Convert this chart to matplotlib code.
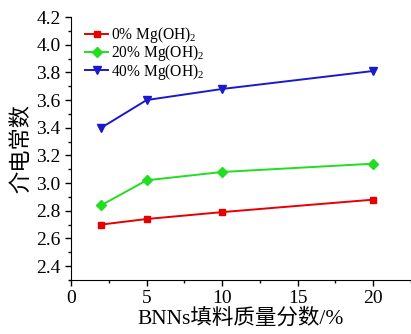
import matplotlib
matplotlib.use("Agg")
import matplotlib.pyplot as plt
from matplotlib.ticker import MultipleLocator

x = [2, 5, 10, 20]
s0 = [2.70, 2.74, 2.79, 2.88]
s20 = [2.84, 3.02, 3.08, 3.14]
s40 = [3.40, 3.60, 3.68, 3.81]
labels = ["0% Mg(OH)$_2$", "20% Mg(OH)$_2$", "40% Mg(OH)$_2$"]

plt.rcParams['font.family'] = ['Liberation Serif', 'Noto Sans CJK SC']
plt.rcParams['mathtext.fontset'] = 'custom'
plt.rcParams['mathtext.rm'] = 'Liberation Serif'

fig = plt.figure(figsize=(4.11, 3.34), dpi=100)
ax = fig.add_axes([0.173, 0.162, 0.827, 0.787])

ax.plot(x, s0, color='#e60000', marker='s', ms=5, lw=1.4, label=labels[0])
ax.plot(x, s20, color='#22dd22', marker='D', ms=5, lw=1.4, label=labels[1])
ax.plot(x, s40, color='#1a1acc', marker='v', ms=6, lw=1.4, label=labels[2])

ax.set_xlim(0, 22.5)
ax.set_ylim(2.3, 4.2)
ax.xaxis.set_major_locator(MultipleLocator(5))
ax.xaxis.set_minor_locator(MultipleLocator(2.5))
ax.yaxis.set_minor_locator(MultipleLocator(0.1))
ax.set_yticks([2.4, 2.6, 2.8, 3.0, 3.2, 3.4, 3.6, 3.8, 4.0, 4.2])
ax.set_yticklabels(["2.4", "2.6", "2.8", "3.0", "3.2", "3.4", "3.6", "3.8", "4.0", "4.2"])

for s in ['top', 'right']:
    ax.spines[s].set_visible(False)
ax.tick_params(axis='both', which='major', direction='out', length=4, labelsize=14, width=1)
ax.tick_params(axis='both', which='minor', direction='out', length=2.5, width=1)

ax.set_xlabel("BNNs填料质量分数/%", fontsize=15.5, labelpad=1)
ax.set_ylabel("介电常数", fontsize=16, labelpad=3)

ax.legend(loc='upper left', bbox_to_anchor=(85 / 411, 1 - 25 / 334), bbox_transform=fig.transFigure,
          frameon=False, fontsize=11.2, handlelength=1.5, handletextpad=0.2,
          labelspacing=-0.1, borderaxespad=0.0, borderpad=0.0)

fig.savefig("out.png", dpi=100)
